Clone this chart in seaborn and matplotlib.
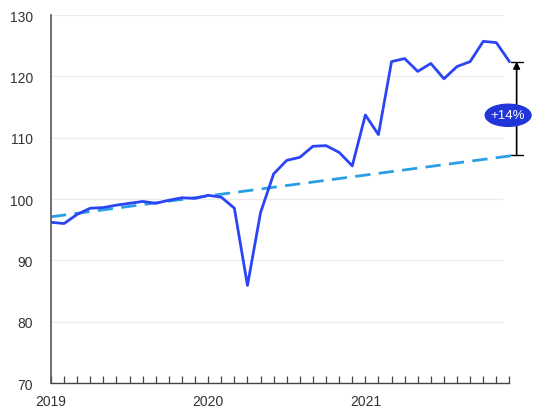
import numpy as np
import pandas as pd
import matplotlib.pyplot as plt
import seaborn as sns
from matplotlib.patches import Ellipse

# monthly index, Jan 2019 .. Dec 2021
months = list(range(36))
actual = [
    96.2, 96.0, 97.5, 98.5, 98.6, 99.0, 99.3, 99.6, 99.3, 99.8, 100.2, 100.1,
    100.6, 100.3, 98.5, 85.9, 97.8, 104.1, 106.3, 106.8, 108.6, 108.7, 107.6, 105.4,
    113.7, 110.5, 122.4, 122.9, 120.8, 122.1, 119.6, 121.6, 122.4, 125.7, 125.5, 122.4,
]
trend_months = [0, 35.3]
trend_values = [97.1, 107.1]
year_labels = ["2019", "2020", "2021"]
year_positions = [0, 12, 24]
y_ticks = [70, 80, 90, 100, 110, 120, 130]
change_label = "+14%"

df = pd.DataFrame({"month": months, "index": actual})
trend = pd.DataFrame({"month": trend_months, "index": trend_values})

sns.set_style("white")
plt.rcParams["font.family"] = ["Liberation Sans", "DejaVu Sans"]

fig = plt.figure(figsize=(5.37, 4.10), dpi=100)
ax = fig.add_axes([51 / 537, 26 / 410, 482 / 537, 368 / 410])

for v in y_ticks[1:]:
    ax.hlines(v, 0, 34.5, color="#ececec", lw=1.0, zorder=0)

sns.lineplot(data=trend, x="month", y="index", ax=ax, color="#2a9fe4",
             lw=2.0, linestyle=(0, (5.5, 3)), zorder=2)
sns.lineplot(data=df, x="month", y="index", ax=ax, color="#2b45f5",
             lw=2.0, zorder=3)

# change arrow
x_arr = 35.55
ax.annotate("", xy=(x_arr, actual[-1]), xytext=(x_arr, trend_values[-1]),
            arrowprops=dict(arrowstyle="-|>", color="black", lw=1.2,
                            mutation_scale=10, shrinkA=0, shrinkB=0), zorder=4)
ax.plot([x_arr - 0.45, x_arr + 0.45], [trend_values[-1]] * 2, color="black", lw=1.0, zorder=4)
ax.plot([x_arr - 0.45, x_arr + 0.45], [actual[-1]] * 2, color="black", lw=1.0, zorder=4)
mid = (actual[-1] + trend_values[-1]) / 2
ax.add_patch(Ellipse((34.9, mid - 1.1), 3.5, 3.6, color="#2036d8", zorder=5))
ax.text(34.9, mid - 1.1, change_label, color="white", fontsize=9.5,
        ha="center", va="center", zorder=6)

ax.set_xlim(0, 36.8)
ax.set_ylim(70, 130)
ax.set_yticks(y_ticks)
ax.set_xticks(months)
ax.set_xticklabels([year_labels[year_positions.index(m)] if m in year_positions else ""
                    for m in months])
ax.tick_params(axis="y", length=0, pad=13, labelsize=10, labelcolor="#333333")
ax.tick_params(axis="x", bottom=True, direction="in", length=5, width=0.9,
               color="#444444", pad=8, labelsize=10, labelcolor="#333333")
ax.set_xlabel("")
ax.set_ylabel("")

for s in ["top", "right"]:
    ax.spines[s].set_visible(False)
ax.spines["left"].set_color("#555555")
ax.spines["bottom"].set_color("#444444")
ax.spines["left"].set_linewidth(1.2)
ax.spines["bottom"].set_linewidth(1.0)
ax.spines["bottom"].set_bounds(0, 35)

fig.savefig("out.png", dpi=100)
